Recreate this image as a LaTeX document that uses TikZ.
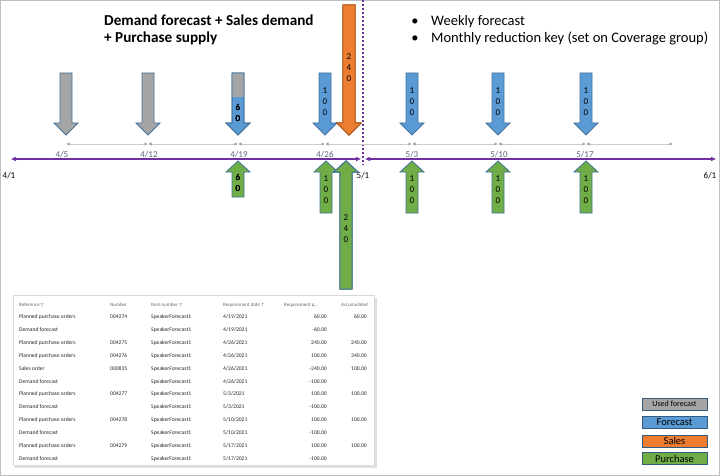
\documentclass[tikz,border=0pt]{standalone}
\usepackage{fontspec}
\setmainfont{Carlito}
\newfontfamily\symfont{DejaVu Sans}
\usetikzlibrary{arrows.meta}
\definecolor{fcblue}{RGB}{91,155,213}
\definecolor{fcgray}{RGB}{165,165,165}
\definecolor{salesorange}{RGB}{237,125,49}
\definecolor{purchgreen}{RGB}{112,173,71}
\definecolor{edgeblue}{RGB}{65,113,156}
\definecolor{edgeorange}{RGB}{174,90,33}
\definecolor{axispurple}{RGB}{112,48,160}
\definecolor{weekgray}{RGB}{96,96,128}

% block arrow pointing down: x, top, tip, style
\newcommand{\dnarrow}[4]{\draw[#4] (#1-6,#2) -- (#1+6,#2) -- (#1+6,#3-12) -- (#1+12,#3-12) -- (#1,#3) -- (#1-12,#3-12) -- (#1-6,#3-12) -- cycle;}
% block arrow pointing up: x, tip, bottom, style
\newcommand{\uparr}[4]{\draw[#4] (#1,#2) -- (#1+12,#2+11) -- (#1+6,#2+11) -- (#1+6,#3) -- (#1-6,#3) -- (#1-6,#2+11) -- (#1-12,#2+11) -- cycle;}

\begin{document}
\begin{tikzpicture}[x=1pt,y=-1pt,
    usedarr/.style={fill=fcgray, draw=edgeblue, line width=0.8pt},
    fcarr/.style={fill=fcblue, draw=edgeblue, line width=0.8pt},
    salesarr/.style={fill=salesorange, draw=edgeorange, line width=0.8pt},
    purarr/.style={fill=purchgreen, draw=edgeblue, line width=0.8pt},
    weekaxis/.style={draw=gray!40, line width=0.8pt, {Triangle[length=3pt,width=3pt,color=gray!75]}-{Triangle[length=3pt,width=3pt,color=gray!75]}},
    monthaxis/.style={draw=axispurple, line width=1.2pt, {Triangle[length=5pt,width=4pt]}-{Triangle[length=5pt,width=4pt]}},
    dates/.style={font=\fontsize{9}{10}\selectfont, text=weekgray, inner sep=0pt},
    months/.style={font=\fontsize{9}{10}\selectfont, inner sep=0pt},
    digits/.style={font=\fontsize{9}{11}\selectfont, align=center, inner sep=0pt},
    legbox/.style={draw=edgeblue!80!black, line width=0.9pt, minimum width=65pt, minimum height=12pt, inner sep=0pt},
    cell/.style={anchor=base west, inner sep=0pt, font=\fontsize{5.6}{6}\selectfont, text=black!85},
    hcell/.style={cell, font=\fontsize{5}{6}\selectfont, text=black!60}]

  \useasboundingbox (0,0) rectangle (720,476);
  \draw[gray!50, line width=1pt] (0.5,0.5) rectangle (719.5,475.5);

  % headings
  \node[anchor=base west, inner sep=0pt, font=\bfseries\fontsize{15.2}{17}\selectfont] (title1) at (104,26) {Demand forecast + Sales demand};
  \node[anchor=base west, inner sep=0pt, font=\bfseries\fontsize{15.2}{17}\selectfont] (title2) at (104,43) {+ Purchase supply};
  \node[anchor=base, inner sep=0pt, font=\fontsize{14.5}{17}\selectfont] (dot1) at (415,26) {•};
  \node[anchor=base, inner sep=0pt, font=\fontsize{14.5}{17}\selectfont] (dot2) at (415,43) {•};
  \node[anchor=base west, inner sep=0pt, font=\fontsize{14.5}{17}\selectfont] (note1) at (431,26) {Weekly forecast};
  \node[anchor=base west, inner sep=0pt, font=\fontsize{14.5}{17}\selectfont] (note2) at (431,43) {Monthly reduction key (set on Coverage group)};

  % month boundary
  \draw[axispurple, line width=1.2pt, dash pattern=on 2pt off 2pt] (363,0) -- (363,165);

  % weekly axis
  \foreach \x [count=\i] in {66,148,238,325,412,498,586,673}
    \coordinate (w\i) at (\x,144);
  \foreach \i/\j in {1/2,2/3,3/4,4/5,5/6,6/7,7/8}
    \draw[weekaxis] ([xshift=0.5pt]w\i) -- ([xshift=-0.5pt]w\j);
  \foreach \x/\d [count=\i] in {62/{4/5},149/{4/12},239/{4/19},325/{4/26},412/{5/3},499/{5/10},585/{5/17}}
    \node[dates] (wl\i) at (\x,155) {\d};

  % monthly axis
  \coordinate (m4) at (11,159);
  \coordinate (m5a) at (361,159);
  \coordinate (m5b) at (365,159);
  \coordinate (m6) at (716,159);
  \draw[monthaxis] (m4) -- (m5a);
  \draw[monthaxis] (m5b) -- (m6);
  \node[months] (ml4) at (9,176) {4/1};
  \node[months] (ml5) at (363,176) {5/1};
  \node[months] (ml6) at (710,176) {6/1};

  % forecast arrows
  \dnarrow{66}{73}{135}{usedarr}
  \dnarrow{148}{73}{135}{usedarr}
  \dnarrow{238}{73}{135}{fcarr}
  \fill[fcgray] (232.4,73.4) rectangle (243.6,97);
  \dnarrow{238}{73}{135}{draw=edgeblue, line width=0.8pt}
  \foreach \x in {325,412,498,586}
    \dnarrow{\x}{73}{135}{fcarr}
  \dnarrow{349}{5}{135}{salesarr}
  \node[digits] (f419) at (238,113) {6\\0};
  \foreach \x [count=\i] in {325,412,498,586}
    \node[digits] (f\i) at (\x,102) {1\\0\\0};
  \node[digits] (s426) at (349,68) {2\\4\\0};

  % purchase arrows
  \uparr{238}{161}{197}{purarr}
  \foreach \x in {326,412,498,586}
    \uparr{\x}{161}{213}{purarr}
  \uparr{346}{161}{289}{purarr}
  \node[digits] (p419) at (238,183) {6\\0};
  \foreach \x [count=\i] in {326,412,498,586}
    \node[digits] (p\i) at (\x,190) {1\\0\\0};
  \node[digits] (p426) at (346,229) {2\\4\\0};

  % table
  \fill[black!12] (15,297.5) rectangle (376.5,467.5);
  \draw[fill=white, draw=gray!30, line width=0.4pt] (13,295) rectangle (374.5,465.5);
  \node[hcell] (h1) at (19,306) {Reference {\symfont\fontsize{4.5}{5}\selectfont ▽}};
  \node[hcell] (h2) at (110,306) {Number};
  \node[hcell] (h3) at (151,306) {Item number {\symfont\fontsize{4.5}{5}\selectfont ▽}};
  \node[hcell] (h4) at (223,306) {Requirement date {\symfont\fontsize{4.5}{5}\selectfont ↑}};
  \node[hcell] (h5) at (284,306) {Requirement q\ldots};
  \node[hcell, anchor=base east] (h6) at (368,306) {Accumulated};
  \foreach \rr/\nr/\dt/\qt/\ac [count=\i] in {
      Planned purchase orders/004274/{4/19/2021}/60.00/60.00,
      Demand forecast/{}/{4/19/2021}/-60.00/{},
      Planned purchase orders/004275/{4/26/2021}/240.00/240.00,
      Planned purchase orders/004276/{4/26/2021}/100.00/340.00,
      Sales order/000835/{4/26/2021}/-240.00/100.00,
      Demand forecast/{}/{4/26/2021}/-100.00/{},
      Planned purchase orders/004277/{5/3/2021}/100.00/100.00,
      Demand forecast/{}/{5/3/2021}/-100.00/{},
      Planned purchase orders/004278/{5/10/2021}/100.00/100.00,
      Demand forecast/{}/{5/10/2021}/-100.00/{},
      Planned purchase orders/004279/{5/17/2021}/100.00/100.00,
      Demand forecast/{}/{5/17/2021}/-100.00/{}}
  {
    \pgfmathsetmacro\yy{318.5+(\i-1)*12.9}
    \node[cell] (r\i a) at (19,\yy) {\rr};
    \node[cell] (r\i b) at (110,\yy) {\nr};
    \node[cell] (r\i c) at (151,\yy) {SpeakerForecast1};
    \node[cell] (r\i d) at (223,\yy) {\dt};
    \node[cell, anchor=base east] (r\i e) at (327,\yy) {\qt};
    \node[cell, anchor=base east] (r\i f) at (367,\yy) {\ac};
  }

  % legend
  \node[legbox, fill=fcgray, font=\fontsize{8}{9}\selectfont] (lused) at (674.5,404) {Used forecast};
  \node[legbox, fill=fcblue, font=\fontsize{10.5}{11}\selectfont] (lfc) at (674.5,422.5) {Forecast};
  \node[legbox, fill=salesorange, font=\fontsize{10.5}{11}\selectfont] (lsales) at (674.5,441) {Sales};
  \node[legbox, fill=purchgreen, font=\fontsize{10.5}{11}\selectfont] (lpur) at (674.5,458.5) {Purchase};
\end{tikzpicture}
\end{document}
